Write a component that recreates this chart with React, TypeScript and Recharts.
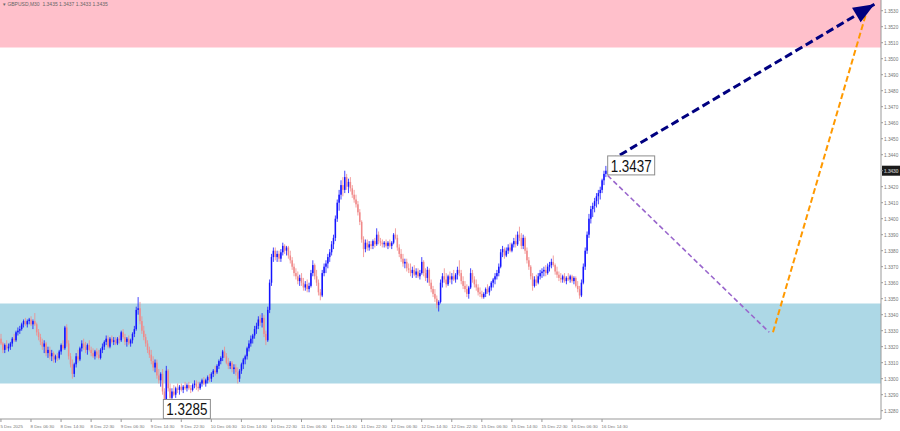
import React from "react";
import {
  ComposedChart,
  Bar,
  Line,
  XAxis,
  YAxis,
  ReferenceArea,
  ReferenceDot,
  ReferenceLine,
} from "recharts";

// ---- data (GBPUSD M30 bars) ----
const firstOpen = 1.3325;
const closes = [
  1.3322, 1.3318, 1.3321, 1.3319, 1.332, 1.3322, 1.3325, 1.3324, 1.3329, 1.333, 1.3331,
  1.3334, 1.3336, 1.3334, 1.3336, 1.3337, 1.3334, 1.3336, 1.3334, 1.3329, 1.3326, 1.3323,
  1.332, 1.3322, 1.3316, 1.3318, 1.3314, 1.3316, 1.3312, 1.3314, 1.3313, 1.3317,
  1.3321, 1.3319, 1.3332, 1.3322, 1.3314, 1.3309, 1.3303, 1.3309, 1.3314, 1.3312, 1.3319,
  1.3322, 1.332, 1.3318, 1.3321, 1.3318, 1.3316, 1.3314, 1.3317, 1.3315, 1.3313,
  1.3318, 1.332, 1.3323, 1.3325, 1.332, 1.3325, 1.3323, 1.3324, 1.3322, 1.3325, 1.3324,
  1.3329, 1.3326, 1.3323, 1.3325, 1.3322, 1.3324, 1.3328, 1.3331, 1.3343, 1.3344, 1.3336,
  1.333, 1.3326, 1.3322, 1.3318, 1.3315, 1.3311, 1.3307, 1.331, 1.3302, 1.3299, 1.3303,
  1.3292, 1.3286, 1.3305, 1.3294, 1.3288, 1.3292, 1.329, 1.3294, 1.3293, 1.3295,
  1.3293, 1.3295, 1.3294, 1.3296, 1.3294, 1.3293, 1.3296, 1.3297, 1.3295, 1.3294, 1.3297,
  1.3299, 1.3297, 1.3299, 1.3301, 1.33, 1.3303, 1.3305, 1.3304, 1.3308, 1.3311, 1.3313,
  1.3317, 1.3314, 1.331, 1.3308, 1.331, 1.3306, 1.3307, 1.3304, 1.33, 1.3305,
  1.3309, 1.3312, 1.3314, 1.3319, 1.3322, 1.3325, 1.3327, 1.3331, 1.3333, 1.3337, 1.3335,
  1.3338, 1.3328, 1.3324, 1.3343, 1.336, 1.3376, 1.338, 1.3376, 1.3378, 1.3375,
  1.3379, 1.3383, 1.338, 1.3382, 1.3377, 1.3374, 1.337, 1.3366, 1.3364, 1.3361, 1.3363,
  1.336, 1.3357, 1.3359, 1.3356, 1.3358, 1.3366, 1.3371, 1.3364, 1.336, 1.3354, 1.3352,
  1.3366, 1.337, 1.3372, 1.3376, 1.3379, 1.3384, 1.3388, 1.34, 1.341, 1.3415,
  1.3421, 1.3418, 1.3426, 1.342, 1.3423, 1.3419, 1.3415, 1.3412, 1.3409, 1.3404, 1.3398,
  1.3387, 1.3381, 1.3385, 1.3382, 1.3384, 1.3383, 1.3386, 1.3384, 1.339, 1.3386, 1.3385,
  1.3384, 1.3385, 1.3383, 1.3385, 1.3383, 1.3385, 1.339, 1.3388, 1.3382, 1.3378,
  1.3375, 1.3372, 1.3373, 1.3369, 1.3368, 1.3366, 1.3368, 1.3365, 1.3367, 1.3364, 1.3366,
  1.3373, 1.3366, 1.3363, 1.3368, 1.336, 1.3356, 1.3353, 1.335, 1.3346, 1.3348,
  1.336, 1.3364, 1.3362, 1.3359, 1.3364, 1.3362, 1.3364, 1.3362, 1.3365, 1.3368, 1.3366,
  1.3361, 1.3358, 1.3356, 1.3353, 1.3357, 1.3366, 1.3362, 1.3359, 1.3357, 1.3354, 1.3353,
  1.3351, 1.3353, 1.3356, 1.3354, 1.3357, 1.336, 1.3362, 1.3364, 1.3366, 1.337,
  1.3379, 1.3381, 1.3377, 1.338, 1.3382, 1.338, 1.3384, 1.3386, 1.3384, 1.339, 1.3388,
  1.3383, 1.3388, 1.338, 1.3374, 1.337, 1.3364, 1.3358, 1.3362, 1.336, 1.3364, 1.3366,
  1.3367, 1.3368, 1.3366, 1.337, 1.3371, 1.3373, 1.3371, 1.3367, 1.3365, 1.3363,
  1.3362, 1.3364, 1.3361, 1.3363, 1.3362, 1.3364, 1.3361, 1.3363, 1.3358, 1.3356, 1.3352,
  1.336, 1.337, 1.338, 1.339, 1.34, 1.3406, 1.3408, 1.3411, 1.3414, 1.3416, 1.3418,
  1.3424, 1.3428, 1.343,
];
const highs = [
  1.3328, 1.3323, 1.3322, 1.3324, 1.3322, 1.3323, 1.3326, 1.3328, 1.333, 1.3332, 1.3333,
  1.3335, 1.3337, 1.3338, 1.3337, 1.3338, 1.3339, 1.3337, 1.3341, 1.3335, 1.3331, 1.3328,
  1.3325, 1.3324, 1.3323, 1.332, 1.332, 1.3318, 1.3317, 1.3315, 1.3316, 1.3318,
  1.3322, 1.3324, 1.3333, 1.3334, 1.3324, 1.3316, 1.3312, 1.331, 1.3316, 1.3318, 1.332,
  1.3324, 1.3325, 1.3323, 1.3322, 1.3324, 1.332, 1.3319, 1.3318, 1.3319, 1.3318,
  1.3319, 1.3322, 1.3324, 1.3327, 1.3327, 1.3326, 1.3327, 1.3326, 1.3326, 1.3326, 1.3327,
  1.333, 1.3331, 1.3328, 1.3326, 1.3327, 1.3325, 1.3329, 1.3333, 1.3345, 1.3351, 1.3348,
  1.3339, 1.3333, 1.3328, 1.3324, 1.332, 1.3318, 1.3314, 1.3312, 1.3312, 1.3306, 1.3304,
  1.3306, 1.3294, 1.3308, 1.3306, 1.3297, 1.3294, 1.3296, 1.3295, 1.3297, 1.3296,
  1.3297, 1.3296, 1.3298, 1.3297, 1.3298, 1.3296, 1.3297, 1.3299, 1.3299, 1.3298, 1.3298,
  1.33, 1.3301, 1.33, 1.3302, 1.3303, 1.3304, 1.3306, 1.3308, 1.3309, 1.3312, 1.3314,
  1.3318, 1.332, 1.3316, 1.3313, 1.3311, 1.3311, 1.3309, 1.3309, 1.3307, 1.3306,
  1.331, 1.3313, 1.3315, 1.332, 1.3324, 1.3327, 1.3328, 1.3333, 1.3335, 1.3339, 1.334,
  1.3341, 1.334, 1.333, 1.3345, 1.3362, 1.3378, 1.3382, 1.3382, 1.338, 1.338,
  1.3381, 1.3385, 1.3384, 1.3383, 1.3383, 1.338, 1.3376, 1.3372, 1.3369, 1.3367, 1.3365,
  1.3366, 1.3363, 1.3361, 1.3362, 1.336, 1.3368, 1.3374, 1.3372, 1.3368, 1.3362, 1.3356,
  1.3368, 1.3372, 1.3374, 1.3378, 1.3381, 1.3386, 1.339, 1.3402, 1.3412, 1.3418,
  1.3424, 1.3426, 1.343, 1.3428, 1.3425, 1.3426, 1.3421, 1.3418, 1.3415, 1.3411, 1.3406,
  1.3399, 1.3389, 1.3387, 1.3387, 1.3386, 1.3386, 1.3387, 1.3388, 1.3394, 1.3392, 1.3388,
  1.3387, 1.3386, 1.3387, 1.3386, 1.3387, 1.3386, 1.3391, 1.3394, 1.339, 1.3384,
  1.3381, 1.3378, 1.3375, 1.3375, 1.3372, 1.3372, 1.337, 1.3371, 1.3369, 1.3369, 1.3368,
  1.3376, 1.3374, 1.3369, 1.337, 1.3369, 1.3362, 1.3358, 1.3356, 1.3352, 1.3349,
  1.3362, 1.3366, 1.3369, 1.3366, 1.3365, 1.3367, 1.3366, 1.3368, 1.3366, 1.337, 1.3374,
  1.3368, 1.3364, 1.3361, 1.3359, 1.3358, 1.3369, 1.3368, 1.3364, 1.3362, 1.3359, 1.3357,
  1.3355, 1.3354, 1.3357, 1.3359, 1.3358, 1.3361, 1.3363, 1.3366, 1.3368, 1.3372,
  1.3381, 1.3383, 1.3382, 1.3382, 1.3384, 1.3385, 1.3385, 1.3388, 1.339, 1.3392, 1.3395,
  1.3391, 1.339, 1.3389, 1.3382, 1.3376, 1.3371, 1.3366, 1.3364, 1.3365, 1.3366, 1.3368,
  1.3369, 1.337, 1.3371, 1.3372, 1.3373, 1.3375, 1.3377, 1.3372, 1.337, 1.3367,
  1.3366, 1.3365, 1.3366, 1.3364, 1.3366, 1.3365, 1.3365, 1.3364, 1.3364, 1.3361, 1.3358,
  1.3362, 1.3372, 1.3382, 1.3392, 1.3403, 1.3408, 1.341, 1.3413, 1.3416, 1.3418, 1.342,
  1.3425, 1.343, 1.3433,
];
const lows = [
  1.3321, 1.3316, 1.3316, 1.3318, 1.3317, 1.3318, 1.332, 1.3323, 1.3323, 1.3327, 1.3328,
  1.333, 1.3332, 1.3333, 1.3332, 1.3334, 1.3333, 1.3331, 1.3333, 1.3327, 1.3324, 1.3321,
  1.3318, 1.3316, 1.3314, 1.3313, 1.3312, 1.3311, 1.331, 1.331, 1.3311, 1.3312,
  1.3315, 1.3318, 1.3318, 1.332, 1.3312, 1.3307, 1.33, 1.3301, 1.3307, 1.331, 1.3311,
  1.3317, 1.3318, 1.3316, 1.3315, 1.3317, 1.3314, 1.3313, 1.3312, 1.3313, 1.3312,
  1.3312, 1.3316, 1.3318, 1.3321, 1.3319, 1.3319, 1.3322, 1.3321, 1.3321, 1.3321, 1.3322,
  1.3323, 1.3325, 1.3321, 1.332, 1.3321, 1.332, 1.3322, 1.3326, 1.333, 1.334, 1.3334,
  1.3328, 1.3324, 1.332, 1.3316, 1.3313, 1.3309, 1.3305, 1.3304, 1.33, 1.3297, 1.3295,
  1.329, 1.3282, 1.3285, 1.3292, 1.3285, 1.3286, 1.3289, 1.3288, 1.3291, 1.329,
  1.3292, 1.3291, 1.3293, 1.3292, 1.3293, 1.3291, 1.3292, 1.3294, 1.3293, 1.3292, 1.3293,
  1.3295, 1.3296, 1.3295, 1.3297, 1.3298, 1.3298, 1.3301, 1.3302, 1.3303, 1.3306, 1.3309,
  1.3311, 1.3313, 1.3309, 1.3306, 1.3306, 1.3304, 1.3303, 1.3302, 1.3297, 1.3298,
  1.3303, 1.3306, 1.3309, 1.3312, 1.3317, 1.332, 1.3322, 1.3325, 1.3328, 1.3331, 1.3333,
  1.3332, 1.3326, 1.3321, 1.3323, 1.3341, 1.3358, 1.3373, 1.3374, 1.3373, 1.3373,
  1.3373, 1.3377, 1.3378, 1.3377, 1.3375, 1.3372, 1.3368, 1.3364, 1.3362, 1.3359, 1.3358,
  1.3358, 1.3355, 1.3355, 1.3354, 1.3354, 1.3357, 1.3364, 1.3362, 1.3358, 1.3352, 1.3349,
  1.3351, 1.3364, 1.3366, 1.3369, 1.3373, 1.3377, 1.3381, 1.3386, 1.3398, 1.3405,
  1.3412, 1.3414, 1.3416, 1.3418, 1.3416, 1.3417, 1.3413, 1.341, 1.3407, 1.3402, 1.3396,
  1.3385, 1.3376, 1.3379, 1.338, 1.338, 1.3381, 1.3381, 1.3382, 1.3383, 1.3384, 1.3383,
  1.3382, 1.3382, 1.3382, 1.3381, 1.3382, 1.3381, 1.3384, 1.3387, 1.338, 1.3376,
  1.3373, 1.337, 1.3369, 1.3367, 1.3366, 1.3364, 1.3363, 1.3364, 1.3363, 1.3363, 1.3362,
  1.3365, 1.3364, 1.3361, 1.336, 1.3358, 1.3354, 1.3351, 1.3348, 1.3344, 1.3342,
  1.3347, 1.3357, 1.336, 1.3357, 1.3358, 1.336, 1.3359, 1.3361, 1.336, 1.3362, 1.3364,
  1.3359, 1.3356, 1.3354, 1.3351, 1.335, 1.3356, 1.336, 1.3357, 1.3355, 1.3352, 1.3351,
  1.335, 1.335, 1.3351, 1.3353, 1.3352, 1.3355, 1.3357, 1.3359, 1.3362, 1.3364,
  1.3369, 1.3376, 1.3375, 1.3376, 1.3378, 1.3379, 1.3379, 1.3382, 1.3382, 1.3383, 1.3386,
  1.3381, 1.3381, 1.3378, 1.3372, 1.3368, 1.3362, 1.3355, 1.3357, 1.3358, 1.3359, 1.3362,
  1.3363, 1.3364, 1.3364, 1.3365, 1.3367, 1.3369, 1.337, 1.3365, 1.3363, 1.3361,
  1.336, 1.336, 1.336, 1.3359, 1.3361, 1.336, 1.336, 1.3359, 1.3357, 1.3354, 1.335,
  1.3351, 1.3359, 1.3368, 1.3378, 1.3388, 1.3397, 1.3401, 1.3404, 1.3407, 1.3409, 1.3412,
  1.3416, 1.3421, 1.3426,
];

const TOTAL_SLOTS = 469; // bar slots on the time axis (incl. empty future area)
const timeTickIndex = [0, 16, 32, 48, 64, 80, 96, 112, 128, 144, 160, 176, 192, 208, 224, 240, 256, 272, 288, 304, 320];
const timeTickLabels = [
  "5 Dec 2025", "8 Dec 06:30", "8 Dec 14:30", "8 Dec 22:30", "9 Dec 06:30", "9 Dec 14:30",
  "9 Dec 22:30", "10 Dec 06:30", "10 Dec 14:30", "10 Dec 22:30", "11 Dec 06:30", "11 Dec 14:30",
  "11 Dec 22:30", "12 Dec 06:30", "12 Dec 14:30", "12 Dec 22:30", "15 Dec 06:30", "15 Dec 14:30",
  "15 Dec 22:30", "16 Dec 06:30", "16 Dec 14:30",
];
const priceTicks = [
  1.328, 1.329, 1.33, 1.331, 1.332, 1.333, 1.334, 1.335, 1.336, 1.337, 1.338, 1.339, 1.34,
  1.341, 1.342, 1.343, 1.344, 1.345, 1.346, 1.347, 1.348, 1.349, 1.35, 1.351, 1.352, 1.353,
];
const priceDomain = [1.32748, 1.35367];

const resistanceZone = [1.3507, 1.35367];
const supportZone = [1.3297, 1.3347];

const blueArrow = [
  { i: 324, v: 1.3436 },
  { i: 465, v: 1.3534 },
];
const purpleArrow = [
  { i: 323, v: 1.3427 },
  { i: 409, v: 1.3329 },
];
const orangeArrow = [
  { i: 411, v: 1.3329 },
  { i: 461, v: 1.353 },
];

const highMark = { i: 323, v: 1.3433, text: "1.3437" };
const lowMark = { i: 87, v: 1.3282, text: "1.3285" };
const titleText = "GBPUSD,M30  1.3435 1.3437 1.3433 1.3435";
const lastPriceText = "1.3430";

// ---- colours ----
const BULL = "#1414ff";
const BEAR = "#f08a8a";
const FONT = "'Liberation Sans', Arial, sans-serif";

function pointValue(arr: { i: number; v: number }[], i: number) {
  const p = arr.find((d) => d.i === i);
  return p ? p.v : null;
}

const data = Array.from({ length: TOTAL_SLOTS }, (_, i) => {
  const has = i < closes.length;
  const o = has ? (i === 0 ? firstOpen : closes[i - 1]) : null;
  return {
    i,
    range: has ? [lows[i], highs[i]] : null,
    o,
    c: has ? closes[i] : null,
    h: has ? highs[i] : null,
    l: has ? lows[i] : null,
    blue: pointValue(blueArrow, i),
    purple: pointValue(purpleArrow, i),
    orange: pointValue(orangeArrow, i),
  };
});

const Candle = (props: any) => {
  const { x, y, width, height, payload } = props;
  if (!payload || payload.c == null || x == null || y == null) return <g />;
  const { o, c, h, l } = payload;
  const top = Math.min(y, y + height);
  const hh = Math.abs(height);
  const span = h - l || 1e-9;
  const yOf = (v: number) => top + ((h - v) / span) * hh;
  const up = c >= o;
  const color = up ? BULL : BEAR;
  const cx = x + width / 2;
  const bt = yOf(Math.max(o, c));
  const bb = yOf(Math.min(o, c));
  return (
    <g>
      <line x1={cx} x2={cx} y1={top} y2={top + Math.max(hh, 1)} stroke={color} strokeWidth={0.8} />
      <rect x={cx - 0.75} y={bt} width={1.5} height={Math.max(1, bb - bt)} fill={color} />
    </g>
  );
};

let blueStart: { cx: number; cy: number } | null = null;
const blueDot = (p: any) => {
  const { cx, cy, index } = p;
  const key = `bd${index}`;
  if (cx == null || cy == null || p.value == null) return <g key={key} />;
  if (index === blueArrow[0].i) {
    blueStart = { cx, cy };
    return <g key={key} />;
  }
  if (index === blueArrow[1].i && blueStart) {
    const ang = Math.atan2(cy - blueStart.cy, cx - blueStart.cx);
    const len = 21;
    const half = 8.5;
    const bx = cx - len * Math.cos(ang);
    const by = cy - len * Math.sin(ang);
    const px = -Math.sin(ang) * half;
    const py = Math.cos(ang) * half;
    return (
      <polygon
        key={key}
        points={`${cx},${cy} ${bx + px},${by + py} ${bx - px},${by - py}`}
        fill="#000080"
      />
    );
  }
  return <g key={key} />;
};

const XTick = (props: any) => {
  const { x, y, payload } = props;
  const idx = timeTickIndex.indexOf(payload.value);
  const label = idx >= 0 ? timeTickLabels[idx] : "";
  return (
    <text x={x - 0.5} y={y + 4} fontSize={4.4} fill="#777" fontFamily={FONT} textAnchor="start">
      {label}
    </text>
  );
};

const YTick = (props: any) => {
  const { x, y, payload } = props;
  return (
    <text x={x} y={y + 2} fontSize={4.7} fill="#777" fontFamily={FONT} textAnchor="start">
      {Number(payload.value).toFixed(4)}
    </text>
  );
};

const boxLabel = (text: string, dx: number, dy: number) => (p: any) => {
  const { cx, cy } = p;
  if (cx == null || cy == null) return <g />;
  return (
    <g>
      <rect x={cx + dx} y={cy + dy} width={47} height={19} fill="#fff" stroke="#8c8c8c" strokeWidth={1} />
      <text
        x={cx + dx + 3}
        y={cy + dy + 16}
        fontSize={17}
        fontFamily={FONT}
        fill="#111"
        textLength={41}
        lengthAdjust="spacingAndGlyphs"
      >
        {text}
      </text>
    </g>
  );
};

const lastPriceLabel = (p: any) => {
  const vb = p.viewBox || {};
  const x = (vb.x || 0) + (vb.width || 0);
  const y = vb.y || 0;
  return (
    <g>
      <rect x={x + 1} y={y - 5} width={18} height={10} fill="#1a1a1a" />
      <text x={x + 3} y={y + 2} fontSize={4.7} fill="#fff" fontFamily={FONT}>
        {lastPriceText}
      </text>
    </g>
  );
};

export default function App() {
  blueStart = null;
  return (
    <div style={{ position: "absolute", left: 0, top: 0, width: 900, height: 431, background: "#fff" }}>
      <ComposedChart
        width={900}
        height={431}
        data={data}
        margin={{ top: 0, right: 0, bottom: 0, left: 0 }}
        barCategoryGap={0}
        barGap={0}
      >
        <XAxis
          dataKey="i"
          type="category"
          ticks={timeTickIndex}
          interval={0}
          height={12}
          tick={XTick}
          tickSize={3}
          tickLine={{ stroke: "#999" }}
          axisLine={{ stroke: "#999" }}
        />
        <YAxis
          orientation="right"
          type="number"
          domain={priceDomain}
          ticks={priceTicks}
          interval={0}
          allowDataOverflow
          width={19}
          tick={YTick}
          tickSize={2}
          tickMargin={1}
          tickLine={{ stroke: "#999" }}
          axisLine={{ stroke: "#999" }}
        />
        <ReferenceArea
          y1={resistanceZone[0]}
          y2={resistanceZone[1]}
          fill="#ffc0cb"
          fillOpacity={1}
          stroke="none"
          ifOverflow="hidden"
        />
        <ReferenceArea
          y1={supportZone[0]}
          y2={supportZone[1]}
          fill="#add8e6"
          fillOpacity={1}
          stroke="none"
          ifOverflow="hidden"
        />
        <Bar dataKey="range" shape={Candle} isAnimationActive={false} />
        <Line
          dataKey="purple"
          stroke="#9966cc"
          strokeWidth={1.6}
          strokeDasharray="5 3"
          dot={false}
          connectNulls
          isAnimationActive={false}
        />
        <Line
          dataKey="orange"
          stroke="#ff9900"
          strokeWidth={2}
          strokeDasharray="6 3"
          dot={false}
          connectNulls
          isAnimationActive={false}
        />
        <Line
          dataKey="blue"
          stroke="#000080"
          strokeWidth={3}
          strokeDasharray="8 4"
          dot={blueDot}
          connectNulls
          isAnimationActive={false}
        />
        <ReferenceDot
          x={highMark.i}
          y={highMark.v}
          r={0}
          ifOverflow="visible"
          shape={boxLabel(highMark.text, 0, -10)}
        />
        <ReferenceDot
          x={lowMark.i}
          y={lowMark.v}
          r={0}
          ifOverflow="visible"
          shape={boxLabel(lowMark.text, -1, -8)}
        />
        <ReferenceLine
          y={closes[closes.length - 1]}
          stroke="none"
          ifOverflow="visible"
          label={lastPriceLabel}
        />
      </ComposedChart>
      <div
        style={{
          position: "absolute",
          left: 3,
          top: 1,
          fontSize: 5,
          color: "#666",
          fontFamily: FONT,
          whiteSpace: "pre",
        }}
      >
        {"▾ " + titleText}
      </div>
    </div>
  );
}
